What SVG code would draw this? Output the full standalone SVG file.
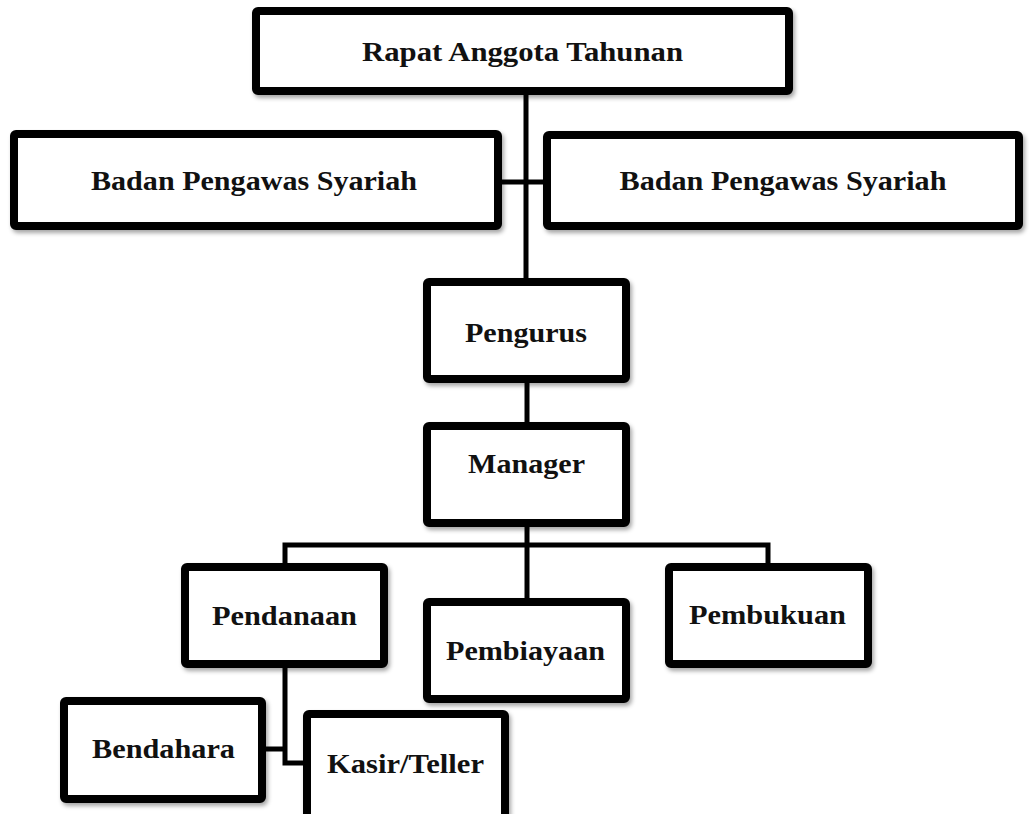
<svg xmlns="http://www.w3.org/2000/svg" width="1029" height="814" viewBox="0 0 1029 814">
<style>
.box{fill:#fff;stroke:#000;stroke-width:8;filter:url(#sh)}
.lbl{font-family:"Liberation Serif","Times New Roman",serif;font-weight:bold;font-size:27px;fill:#111;text-anchor:middle}
.con{fill:none;stroke:#000;stroke-width:5;stroke-linejoin:miter}
</style>
<defs>
<filter id="sh" x="-5%" y="-5%" width="112%" height="120%">
<feDropShadow dx="2" dy="3" stdDeviation="2" flood-color="#000" flood-opacity="0.35"/>
</filter>
</defs>
<rect width="1029" height="814" fill="#fff"/>
<g id="connectors">
<path class="con" d="M526 95 V278"/>
<path class="con" d="M502 182 H543"/>
<path class="con" d="M527 383 V422"/>
<path class="con" d="M527 527 V598"/>
<path class="con" d="M285 563 V545 H768 V563"/>
<path class="con" d="M285 668 V763 H303"/>
<path class="con" d="M266 749 H285"/>
</g>
<g id="rapat"><rect class="box" x="256" y="11" width="533" height="80" rx="2"/><text class="lbl" x="522.5" y="61" textLength="321" lengthAdjust="spacingAndGlyphs">Rapat Anggota Tahunan</text></g>
<g id="bps-left"><rect class="box" x="14" y="134" width="484" height="92" rx="2"/><text class="lbl" x="254" y="190" textLength="326" lengthAdjust="spacingAndGlyphs">Badan Pengawas Syariah</text></g>
<g id="bps-right"><rect class="box" x="547" y="135" width="472" height="91" rx="2"/><text class="lbl" x="783" y="190" textLength="327" lengthAdjust="spacingAndGlyphs">Badan Pengawas Syariah</text></g>
<g id="pengurus"><rect class="box" x="427" y="282" width="199" height="97" rx="2"/><text class="lbl" x="526" y="342" textLength="122" lengthAdjust="spacingAndGlyphs">Pengurus</text></g>
<g id="manager"><rect class="box" x="427" y="426" width="199" height="97" rx="2"/><text class="lbl" x="526.5" y="473" textLength="117" lengthAdjust="spacingAndGlyphs">Manager</text></g>
<g id="pendanaan"><rect class="box" x="185" y="567" width="199" height="97" rx="2"/><text class="lbl" x="284.5" y="625" textLength="145" lengthAdjust="spacingAndGlyphs">Pendanaan</text></g>
<g id="pembiayaan"><rect class="box" x="427" y="602" width="199" height="97" rx="2"/><text class="lbl" x="525.5" y="660" textLength="159" lengthAdjust="spacingAndGlyphs">Pembiayaan</text></g>
<g id="pembukuan"><rect class="box" x="669" y="567" width="199" height="97" rx="2"/><text class="lbl" x="767.5" y="624" textLength="157" lengthAdjust="spacingAndGlyphs">Pembukuan</text></g>
<g id="bendahara"><rect class="box" x="64" y="701" width="198" height="98" rx="2"/><text class="lbl" x="163.5" y="758" textLength="143" lengthAdjust="spacingAndGlyphs">Bendahara</text></g>
<g id="kasir"><rect class="box" x="307" y="714" width="198" height="104" rx="2"/><text class="lbl" x="405.5" y="773" textLength="157" lengthAdjust="spacingAndGlyphs">Kasir/Teller</text></g>
</svg>
